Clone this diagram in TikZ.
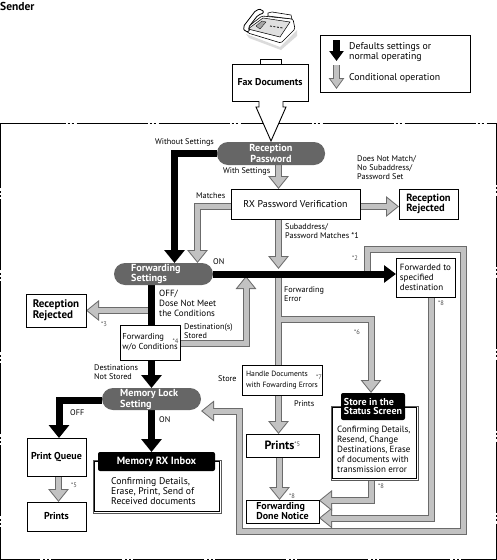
\documentclass[tikz,border=0pt]{standalone}
\usepackage{fontspec}
\setmainfont{PT Sans}
\usetikzlibrary{arrows.meta,backgrounds}

\definecolor{pillgray}{gray}{0.40}
\definecolor{condedge}{gray}{0.42}
\definecolor{condfill}{gray}{0.76}

\tikzset{
  boxnode/.style={draw, fill=white, line width=0.8pt, inner sep=0pt, outer sep=0pt, align=left},
  pillnode/.style={fill=pillgray, rounded corners=11pt, inner sep=0pt, outer sep=0pt},
  headnode/.style={fill=black, text=white, rounded corners=2pt, inner sep=0pt, outer sep=0pt, align=left, font=\bfseries\fontsize{10}{9.5}\selectfont},
  frameout/.style={draw=black!65, line width=1pt, fill=white, inner sep=0pt, outer sep=0pt},
  framein/.style={draw=black, line width=0.8pt, inner sep=0pt, outer sep=0pt},
  pilltext/.style={text=white, inner sep=0pt, align=left, anchor=west, font=\bfseries\fontsize{10.2}{9}\selectfont},
  smalltext/.style={inner sep=0pt, align=left, anchor=west, font=\fontsize{8.2}{9}\selectfont},
  bodytext/.style={inner sep=0pt, align=left, anchor=west, font=\fontsize{9}{10}\selectfont},
  notetext/.style={inner sep=0pt, anchor=west, text=black!70, font=\fontsize{6.5}{6.5}\selectfont},
  defarrow/.style={line width=7pt, -{Triangle[width=20pt,length=13pt]}},
  condout/.style={line width=7pt, condedge, -{Triangle[width=20pt,length=13pt]}},
  condin/.style={line width=5pt, condfill, shorten >=1.6pt, -{Triangle[width=16pt,length=10.4pt]}},
  condplain/.style={line width=7pt, condedge},
  condplainin/.style={line width=5pt, condfill},
}
\newcommand{\condline}[1]{\draw[condout] #1; \draw[condin] #1;}

\begin{document}
\begin{tikzpicture}[x=1pt, y=-1pt]
  \useasboundingbox (0,0) rectangle (497,560);

  \draw [line width=1pt, dash pattern=on 71pt off 2pt on 2pt off 2pt on 2pt off 3pt, dash phase=6pt]
        (0.5,123) -- (496,123) -- (496,559) -- (0.5,559) -- cycle;  %frame

  \node [inner sep=0pt, anchor=west, font=\bfseries\fontsize{11.5}{11.5}\selectfont] (sender) at (0,6) {Sender};

  % fax machine
  \fill [black!14] (246,34) -- (280,47) -- (297,30) -- (297,36) -- (281,50) -- (249,38) -- cycle;
  \draw [fill=white, line width=0.6pt, rounded corners=1.5pt] (245,29) -- (262,16) -- (293,19) -- (295,29) -- (281,43) -- (248,33) -- cycle;
  \draw [fill=black!12, line width=0.5pt] (248,29) -- (263,18) -- (290,22) -- (280,37) -- cycle;
  \draw [fill=black!35, line width=0.3pt] (256,26) -- (262,21) -- (266,22) -- (260,29) -- cycle;
  \draw [line width=0.8pt, dash pattern=on 2pt off 1.5pt] (270,26) -- (283,28);
  \draw [fill=white, line width=0.8pt, rounded corners=2pt] (245,32) -- (243,27) -- (256,10) -- (262,9) -- (264,13) -- (258,15) -- (248,28) -- (250,31) -- cycle;
  \draw [fill=white, line width=0.6pt] (268,13) -- (272,12) -- (291,15) -- (292,19) -- (268,16) -- cycle;

  % legend
  \node [boxnode, minimum width=150pt, minimum height=57pt] (legend) at (395,63.5) {};
  \node [bodytext, font=\fontsize{9.8}{10}\selectfont] (legenddefault) at (349,52) {Defaults settings or\\normal operating};
  \node [bodytext, font=\fontsize{9.8}{10}\selectfont] (legendcond) at (349,77.5) {Conditional operation};
  \coordinate (legendblacka) at (336.5,40);
  \coordinate (legendblackb) at (336.5,61);
  \coordinate (legendgraya)  at (336.5,65);
  \coordinate (legendgrayb)  at (336.5,89);

  % sender side
  \draw [line width=0.7pt, fill=white] (260,64) -- (260,59) -- (281.5,59) -- (281.5,64);
  \node [boxnode, minimum width=76pt, minimum height=37pt, font=\fontsize{9.9}{10}\selectfont\bfseries] (faxdoc) at (270,82.5) {Fax Documents};

  % pills
  \node [pillnode, minimum width=108pt, minimum height=23pt] (recpass) at (271,153.5) {};
  \node [pilltext, align=center, anchor=center] (recpasstext) at (271,153.5) {Reception\\Password};
  \node [pillnode, minimum width=99pt, minimum height=22pt] (fwdset) at (163.5,274) {};
  \node [pilltext] (fwdsettext) at (131,274) {Forwarding\\Settings};
  \node [pillnode, minimum width=99pt, minimum height=22pt] (memlock) at (151.5,399) {};
  \node [pilltext] (memlocktext) at (120,399.5) {Memory Lock\\Setting};

  % boxes
  \node [boxnode, minimum width=129pt, minimum height=30pt, font=\fontsize{9.9}{10}\selectfont] (rxverify) at (295.5,204) {RX Password Verification};
  \node [boxnode, minimum width=59pt, minimum height=30pt, font=\bfseries\fontsize{10.5}{10}\selectfont] (rejectright) at (428.5,204) {Reception\\Rejected};
  \node [boxnode, minimum width=59pt, minimum height=39pt, font=\fontsize{9}{10}\selectfont] (fwdto) at (425.5,277.5) {Forwarded to\\specified\\destination};
  \node [boxnode, minimum width=60pt, minimum height=33pt, font=\bfseries\fontsize{11}{10}\selectfont] (rejectleft) at (56,310.5) {Reception\\Rejected};
  \node [boxnode, minimum width=60pt, minimum height=35pt, font=\fontsize{8.6}{10}\selectfont] (fwdwo) at (150,342.5) {Forwarding\\w/o Conditions};
  \node [boxnode, minimum width=80pt, minimum height=30pt, font=\fontsize{7.6}{11}\selectfont] (handle) at (282,380) {Handle Documents\\with Fowarding Errors};
  \node [boxnode, minimum width=73pt, minimum height=23pt, font=\bfseries\fontsize{12}{12}\selectfont] (printsmid) at (282.5,445.5) {Prints\raisebox{3pt}{\mdseries\color{black!70}\fontsize{6.5}{6.5}\selectfont *5}};
  \node [boxnode, minimum width=73pt, minimum height=23pt, font=\bfseries\fontsize{10}{10}\selectfont] (donenotice) at (282.5,511.5) {Forwarding\\Done Notice};
  \node [boxnode, minimum width=59pt, minimum height=38pt, font=\bfseries\fontsize{10}{10}\selectfont] (printq) at (56.5,457) {Print Queue};
  \node [boxnode, minimum width=59pt, minimum height=29pt, font=\bfseries\fontsize{10}{10}\selectfont] (printsleft) at (56.5,516.5) {Prints};

  \node [frameout, minimum width=128pt, minimum height=53pt] (inboxframe) at (157,486.5) {};
  \node [framein, minimum width=124.5pt, minimum height=49.5pt] (inboxinner) at (157,486.5) {};
  \node [headnode, minimum width=117pt, minimum height=19pt, font=\bfseries\fontsize{10.5}{10}\selectfont] (inboxhead) at (156.5,461.5) {Memory RX Inbox};
  \node [bodytext, font=\fontsize{9.7}{10}\selectfont] (inboxbody) at (111,491) {Confirming Details,\\Erase, Print, Send of\\Received documents};
  \node [frameout, minimum width=87pt, minimum height=74pt] (storeframe) at (374.5,443) {};
  \node [framein, minimum width=83.5pt, minimum height=70.5pt] (storeinner) at (374.5,443) {};
  \node [headnode, minimum width=64pt, minimum height=27pt] (storehead) at (373,406.5) {Store in the\\Status Screen};
  \node [bodytext] (storebody) at (337,449) {Confirming Details,\\Resend, Change\\Destinations, Erase\\of documents with\\transmission error};

  % labels
  \node [smalltext] (lblwithout) at (155,142) {Without Settings};
  \node [smalltext] (lblwith) at (223,171) {With Settings};
  \node [smalltext] (lblnomatch) at (357,168) {Does Not Match/\\No Subaddress/\\Password Set};
  \node [smalltext] (lblmatches) at (196,196) {Matches};
  \node [smalltext] (lblsubaddr) at (285,231.5) {Subaddress/\\Password Matches *1};
  \node [smalltext] (lblon) at (213,262) {ON};
  \node [smalltext] (lblfwderr) at (284,294.5) {Forwarding\\Error};
  \node [bodytext] (lbloff) at (159,303) {OFF/\\Dose Not Meet\\the Conditions};
  \node [smalltext] (lbldest) at (184,331.5) {Destination(s)\\Stored};
  \node [smalltext] (lblnotstored) at (94,372.5) {Destinations\\Not Stored};
  \node [smalltext] (lblstore) at (218,379) {Store};
  \node [smalltext] (lblprints) at (294,404) {Prints};
  \node [smalltext] (lbloffb) at (70,413) {OFF};
  \node [smalltext] (lblonb) at (159,420) {ON};
  \node [notetext] (notetwo) at (352,258) {*2};
  \node [notetext] (notethree) at (101,324) {*3};
  \node [notetext] (notefour) at (172.5,341) {*4};
  \node [notetext] (notesix) at (354,332) {*6};
  \node [notetext] (noteseven) at (316,377) {*7};
  \node [notetext] (notefiveleft) at (71,485) {*5};
  \node [notetext] (noteeighta) at (438,303) {*8};
  \node [notetext] (noteeightb) at (289,496) {*8};
  \node [notetext] (noteeightc) at (378,486) {*8};

  % named bends
  \coordinate (withoutturn)  at (174.5,153.5);
  \coordinate (matchturn)    at (197.5,206);
  \coordinate (storeturn)    at (371,319.5);
  \coordinate (mainline)     at (278.5,319.5);
  \coordinate (looptopl)     at (367,249.5);
  \coordinate (looptopr)     at (463,249.5);
  \coordinate (loopbotr)     at (463,531);
  \coordinate (loopbotl)     at (239.5,531);
  \coordinate (loopend)      at (239.5,411);
  \coordinate (fwdbotr)      at (431,518);
  \coordinate (storebotr)    at (371,500.5);
  \coordinate (destturn)     at (246,343);
  \coordinate (offturn)      at (59,400);

  \begin{scope}[on background layer]
    \condline{(recpass.south -| 278.5,0) -- (rxverify.north -| 278.5,0)}
    \condline{(rxverify.east |- 0,206.5) -- (rejectright.west |- 0,206.5)}
    \condline{(rxverify.west |- matchturn) -- (matchturn) -- (fwdset.north -| matchturn)}
    \condline{(rxverify.south -| 278.5,0) -- (278.5,269)}
    \condline{(151.5,310.5) -- (rejectleft.east |- 0,310.5)}
    \condline{(fwdwo.east |- destturn) -- (destturn) -- (246,276)}
    \condline{(367,272) -- (looptopl) -- (looptopr) -- (loopbotr) -- (loopbotl) -- (loopend) -- (memlock.east |- loopend)}
    \condline{(431,297) -- (fwdbotr) -- (donenotice.east |- fwdbotr)}
    \condline{(storeframe.south -| storebotr) -- (storebotr) -- (donenotice.east |- storebotr)}
    \condline{(handle.south -| 278.5,0) -- (printsmid.north -| 278.5,0)}
    \condline{(printsmid.south -| 279.5,0) -- (donenotice.north -| 279.5,0)}
    \condline{(printq.south -| 58.5,0) -- (printsleft.north -| 58.5,0)}
    % Forwarding Error line with its branch
    \draw [condplain] (278.5,272) -- (handle.north -| 278.5,0);
    \draw [condout] (mainline) -- (storeturn) -- (storehead.north -| storeturn);
    \draw [condplainin] (278.5,272) -- (handle.north -| 278.5,0);
    \draw [condin] (mainline) -- (storeturn) -- (storehead.north -| storeturn);
    % black
    \draw [defarrow] (recpass.west |- withoutturn) -- (withoutturn) -- (fwdset.north -| withoutturn);
    \draw [defarrow, -{Triangle[width=17pt,length=12pt]}] (fwdset.east) -- (fwdto.west |- fwdset.east);
    \draw [line width=7pt] (fwdset.south -| 151.5,0) -- (fwdwo.north -| 151.5,0);
    \draw [defarrow] (fwdwo.south -| 151.5,0) -- (memlock.north -| 151.5,0);
    \draw [defarrow] (memlock.south -| 151.5,0) -- (inboxhead.north -| 151.5,0);
    \draw [defarrow] (memlock.west |- offturn) -- (offturn) -- (printq.north -| offturn);
  \end{scope}

  % legend arrows
  \draw [defarrow, -{Triangle[width=14pt,length=10pt]}] (legendblacka) -- (legendblackb);
  \draw [condout, -{Triangle[width=15pt,length=11pt]}] (legendgraya) -- (legendgrayb);
  \draw [condin, -{Triangle[width=11.5pt,length=8.4pt]}] (legendgraya) -- (legendgrayb);

  % hollow arrow out of the fax box
  \coordinate (hollowtip) at (271,141);
  \draw [line width=0.9pt, fill=white] (faxdoc.south -| 259,0) -- (259,107) -- (256,107) -- (hollowtip) -- (286,107) -- (283,107) -- (faxdoc.south -| 283,0);
\end{tikzpicture}
\end{document}
